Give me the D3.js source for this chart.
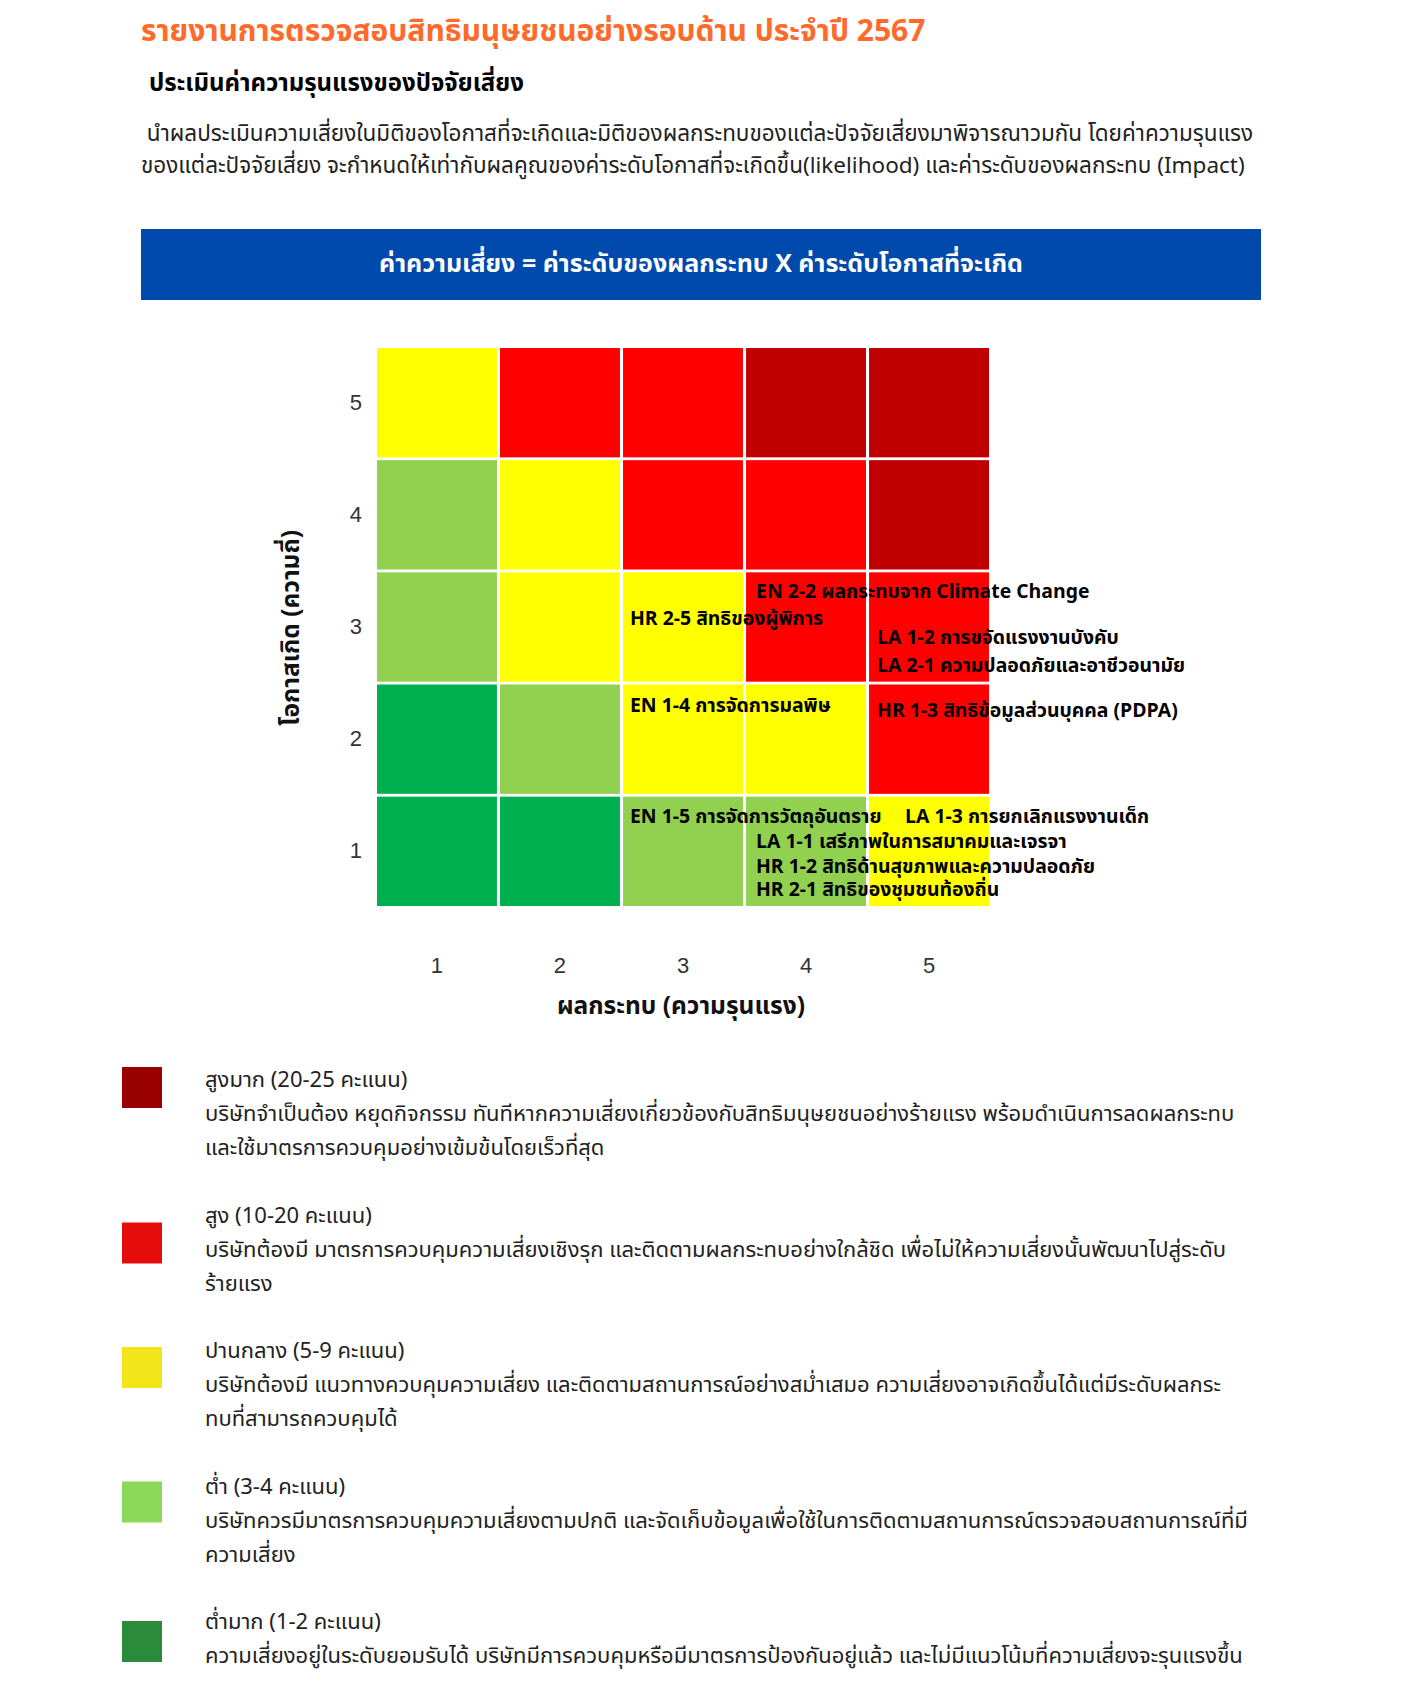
<!DOCTYPE html>
<html>
<head>
<meta charset="utf-8">
<script src="https://cdn.jsdelivr.net/npm/d3@7"></script>
<style>
    body { margin: 0; background: #fff; }
    svg { display: block; }
    .thai { font-family: "Noto Sans Thai", "Noto Sans Thai Looped", "Loma", "Garuda", "Kinnari", "Tlwg Typo", sans-serif; }
</style>
</head>
<body>
<div id="chart"></div>
<script>
const impactLevels = [1, 2, 3, 4, 5]
const likelihoodLevels = [1, 2, 3, 4, 5]

// score bands, lowest first: [min score, cell colour]
const bandMins = [1, 3, 5, 10, 20]
const cellColors = ['#00b050', '#92d050', '#ffff00', '#ff0000', '#c00000']

// risk factors placed on the matrix
const riskImpact = [4, 3, 5, 5, 3, 5, 3, 5, 4, 4, 4]
const riskLikelihood = [3, 3, 3, 3, 2, 2, 1, 1, 1, 1, 1]
const riskLabels = [
    'EN 2-2 ผลกระทบจาก Climate Change',
    'HR 2-5 สิทธิของผู้พิการ',
    'LA 1-2 การขจัดแรงงานบังคับ',
    'LA 2-1 ความปลอดภัยและอาชีวอนามัย',
    'EN 1-4 การจัดการมลพิษ',
    'HR 1-3 สิทธิข้อมูลส่วนบุคคล (PDPA)',
    'EN 1-5 การจัดการวัตถุอันตราย',
    'LA 1-3 การยกเลิกแรงงานเด็ก',
    'LA 1-1 เสรีภาพในการสมาคมและเจรจา',
    'HR 1-2 สิทธิด้านสุขภาพและความปลอดภัย',
    'HR 2-1 สิทธิของชุมชนท้องถิ่น'
]

const legendNames = ['สูงมาก (20-25 คะแนน)', 'สูง (10-20 คะแนน)', 'ปานกลาง (5-9 คะแนน)', 'ต่ำ (3-4 คะแนน)', 'ต่ำมาก (1-2 คะแนน)']
const legendColors = ['#990000', '#e50c0c', '#f2e61b', '#8cd95a', '#2a8c3a']
const legendDescriptions = [
    ['บริษัทจำเป็นต้อง หยุดกิจกรรม ทันทีหากความเสี่ยงเกี่ยวข้องกับสิทธิมนุษยชนอย่างร้ายแรง พร้อมดำเนินการลดผลกระทบ', 'และใช้มาตรการควบคุมอย่างเข้มข้นโดยเร็วที่สุด'],
    ['บริษัทต้องมี มาตรการควบคุมความเสี่ยงเชิงรุก และติดตามผลกระทบอย่างใกล้ชิด เพื่อไม่ให้ความเสี่ยงนั้นพัฒนาไปสู่ระดับ', 'ร้ายแรง'],
    ['บริษัทต้องมี แนวทางควบคุมความเสี่ยง และติดตามสถานการณ์อย่างสม่ำเสมอ ความเสี่ยงอาจเกิดขึ้นได้แต่มีระดับผลกระ', 'ทบที่สามารถควบคุมได้'],
    ['บริษัทควรมีมาตรการควบคุมความเสี่ยงตามปกติ และจัดเก็บข้อมูลเพื่อใช้ในการติดตามสถานการณ์ตรวจสอบสถานการณ์ที่มี', 'ความเสี่ยง'],
    ['ความเสี่ยงอยู่ในระดับยอมรับได้ บริษัทมีการควบคุมหรือมีมาตรการป้องกันอยู่แล้ว และไม่มีแนวโน้มที่ความเสี่ยงจะรุนแรงขึ้น']
]

const title = 'รายงานการตรวจสอบสิทธิมนุษยชนอย่างรอบด้าน ประจำปี 2567'
const subtitle = 'ประเมินค่าความรุนแรงของปัจจัยเสี่ยง'
const intro = [
    ' นำผลประเมินความเสี่ยงในมิติของโอกาสที่จะเกิดและมิติของผลกระทบของแต่ละปัจจัยเสี่ยงมาพิจารณาวมกัน โดยค่าความรุนแรง',
    'ของแต่ละปัจจัยเสี่ยง จะกำหนดให้เท่ากับผลคูณของค่าระดับโอกาสที่จะเกิดขึ้น(likelihood) และค่าระดับของผลกระทบ (Impact)'
]
const formula = 'ค่าความเสี่ยง = ค่าระดับของผลกระทบ X ค่าระดับโอกาสที่จะเกิด'

const width = 1414
const height = 1688

// label offsets inside their cell (layout only)
const labelDx = [10, 7, 8, 8, 7, 8, 7, 36, 10, 10, 10]
const labelDy = [26, 53, 72, 100, 28, 33, 26, 26, 51, 76, 99]
// legend swatch shift relative to its row
const swatchShift = [-13, 7, -4, -5, -1]

const svg = d3.select('#chart').append('svg')
    .attr('width', width)
    .attr('height', height)
    .attr('class', 'thai')

// header texts
svg.append('text')
    .attr('x', 141).attr('y', 41)
    .attr('fill', '#ff6a2b')
    .style('font-size', '30px').style('font-weight', 'bold')
    .text(title)

svg.append('text')
    .attr('x', 149).attr('y', 91)
    .attr('fill', '#000')
    .style('font-size', '24px').style('font-weight', 'bold')
    .text(subtitle)

svg.append('g').selectAll('text')
    .data(intro)
    .enter()
    .append('text')
    .attr('x', 141)
    .attr('y', (d, i) => 141 + i * 32)
    .attr('fill', '#222')
    .style('font-size', '22.5px')
    .style('white-space', 'pre')
    .text(d => d)

svg.append('rect')
    .attr('x', 141).attr('y', 229)
    .attr('width', 1120).attr('height', 71)
    .attr('fill', '#004aad')

svg.append('text')
    .attr('x', 141 + 1120 / 2).attr('y', 272)
    .attr('text-anchor', 'middle')
    .attr('fill', '#fff')
    .style('font-size', '25px').style('font-weight', 'bold')
    .text(formula)

// risk matrix
const x = d3.scaleBand()
    .domain(impactLevels)
    .range([377, 989])
    .paddingInner(0.025)

const y = d3.scaleBand()
    .domain(likelihoodLevels.slice().reverse())
    .range([348, 906])
    .paddingInner(0.025)

const colorFor = d3.scaleThreshold()
    .domain(bandMins.slice(1))
    .range(cellColors)

const cells = []
likelihoodLevels.forEach(l => impactLevels.forEach(i => cells.push({ impact: i, likelihood: l, score: i * l })))

svg.append('g').selectAll('rect')
    .data(cells)
    .enter()
    .append('rect')
    .attr('x', d => x(d.impact))
    .attr('y', d => y(d.likelihood))
    .attr('width', x.bandwidth())
    .attr('height', y.bandwidth())
    .attr('fill', d => colorFor(d.score))

const xAxis = svg.append('g')
    .attr('transform', 'translate(0,' + 906 + ')')
    .call(d3.axisBottom(x).tickSize(0).tickPadding(51))
xAxis.select('.domain').remove()
xAxis.selectAll('text')
    .attr('fill', '#333')
    .style('font-family', '"Liberation Sans", Arial, sans-serif')
    .style('font-size', '22px')

const yAxis = svg.append('g')
    .attr('transform', 'translate(' + 377 + ',0)')
    .call(d3.axisLeft(y).tickSize(0).tickPadding(15))
yAxis.select('.domain').remove()
yAxis.selectAll('text')
    .attr('fill', '#333')
    .style('font-family', '"Liberation Sans", Arial, sans-serif')
    .style('font-size', '22px')

svg.append('text')
    .attr('transform', 'translate(299,628) rotate(-90)')
    .attr('text-anchor', 'middle')
    .attr('fill', '#111')
    .style('font-size', '24.5px').style('font-weight', 'bold')
    .text('โอกาสเกิด (ความถี่)')

svg.append('text')
    .attr('x', 681).attr('y', 1014)
    .attr('text-anchor', 'middle')
    .attr('fill', '#111')
    .style('font-size', '24.5px').style('font-weight', 'bold')
    .text('ผลกระทบ (ความรุนแรง)')

svg.append('g').selectAll('text')
    .data(riskLabels)
    .enter()
    .append('text')
    .attr('x', (d, i) => x(riskImpact[i]) + labelDx[i])
    .attr('y', (d, i) => y(riskLikelihood[i]) + labelDy[i])
    .attr('fill', '#000')
    .style('font-size', '19.4px').style('font-weight', 'bold')
    .text(d => d)

// legend
const legend = svg.append('g').selectAll('g')
    .data(legendNames)
    .enter()
    .append('g')
    .attr('transform', (d, i) => 'translate(0,' + (1080 + i * 135.5) + ')')

legend.append('rect')
    .attr('x', 122)
    .attr('y', (d, i) => swatchShift[i])
    .attr('width', 40).attr('height', 41)
    .attr('fill', (d, i) => legendColors[i])

legend.append('text')
    .attr('x', 205).attr('y', 7)
    .attr('fill', '#222')
    .style('font-size', '22px')
    .text(d => d)

legend.each(function (d, i) {
    d3.select(this).selectAll('text.desc')
        .data(legendDescriptions[i])
        .enter()
        .append('text')
        .attr('class', 'desc')
        .attr('x', 205)
        .attr('y', (t, j) => 41 + j * 34)
        .attr('fill', '#222')
        .style('font-size', '22px')
        .text(t => t)
})
</script>
</body>
</html>
